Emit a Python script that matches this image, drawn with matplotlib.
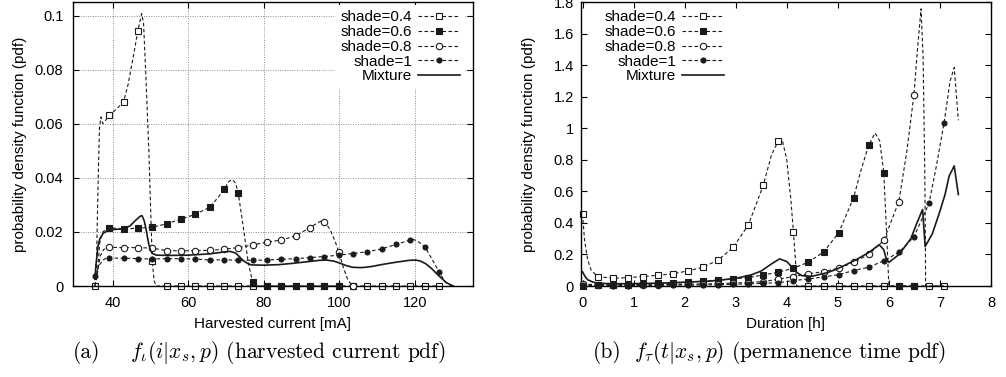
import matplotlib
matplotlib.use("Agg")
import matplotlib.pyplot as plt
from matplotlib.lines import Line2D
from matplotlib.ticker import FuncFormatter

plt.rcParams["font.family"] = ["Liberation Sans", "DejaVu Sans"]
plt.rcParams["mathtext.fontset"] = "cm"

LABELS = ["shade=0.4", "shade=0.6", "shade=0.8", "shade=1", "Mixture"]

# ---- (a) harvested current pdf -------------------------------------------
# sample positions where gnuplot drew the point markers
cur_mx = [35.2, 39.0, 42.8, 46.6, 50.4, 54.2, 58.0, 61.8, 65.6, 69.4, 73.2,
          77.0, 80.8, 84.6, 88.4, 92.2, 96.0, 99.8, 103.6, 107.4, 111.2,
          115.0, 118.8, 122.6, 126.4]

cur_m04 = [0, 0.0631, 0.0681, 0.0944, 0.0093, 0, 0, 0, 0, 0, 0, 0, 0, 0, 0,
           0, 0, 0, 0, 0, 0, 0, 0, 0, 0]
cur_m06 = [None, 0.0216, 0.0210, 0.0214, 0.0217, 0.0230, 0.0247, 0.0265,
           0.0291, 0.0358, 0.0343, 0.0014, 0, 0, 0, 0, 0, 0]
cur_m08 = [None, 0.0143, 0.0142, 0.0142, 0.0140, 0.0131, 0.0130, 0.0131,
           0.0132, 0.0136, 0.0142, 0.0152, 0.0162, 0.0170, 0.0185, 0.0216,
           0.0238, 0.0127, 0]
cur_m10 = [0.0037, 0.0103, 0.0103, 0.0101, 0.0100, 0.0101, 0.0101, 0.0100,
           0.0096, 0.0097, 0.0095, 0.0095, 0.0096, 0.0099, 0.0101, 0.0105,
           0.0109, 0.0114, 0.0120, 0.0127, 0.0137, 0.0154, 0.0170, 0.0146,
           0.0053]

# smooth curves
cur_x04 = [35.2, 35.6, 36.0, 36.4, 36.8, 37.3, 38.0, 39.0, 41.0, 42.8, 44.0,
           45.4, 46.6, 47.6, 48.1, 48.7, 49.5, 50.4, 50.9, 51.4, 126.4]
cur_y04 = [0, 0.006, 0.035, 0.058, 0.0625, 0.0600, 0.0612, 0.0631, 0.0655,
           0.0681, 0.0745, 0.085, 0.0944, 0.1007, 0.097, 0.078, 0.050, 0.0093,
           0.002, 0, 0]
cur_x06 = [35.2, 35.8, 36.5, 37.3, 38.2, 39.0, 42.8, 46.6, 50.4, 54.2, 58.0,
           61.8, 65.6, 68.0, 69.4, 70.8, 71.7, 72.5, 73.2, 74.5, 75.8, 77.0,
           78.2, 99.8]
cur_y06 = [0, 0.004, 0.016, 0.020, 0.021, 0.0216, 0.0210, 0.0214, 0.0217,
           0.0230, 0.0247, 0.0265, 0.0291, 0.033, 0.0358, 0.0388, 0.0393,
           0.038, 0.0343, 0.022, 0.009, 0.0014, 0, 0]
cur_x08 = [35.2, 35.8, 36.6, 37.5, 39.0, 42.8, 46.6, 50.4, 54.2, 58.0, 61.8,
           65.6, 69.4, 73.2, 77.0, 80.8, 84.6, 88.4, 92.2, 94.5, 95.4, 96.0,
           97.5, 99.0, 99.8, 101.0, 102.3, 103.6]
cur_y08 = [0, 0.004, 0.011, 0.0135, 0.0143, 0.0142, 0.0142, 0.0140, 0.0131,
           0.0130, 0.0131, 0.0132, 0.0136, 0.0142, 0.0152, 0.0162, 0.0170,
           0.0185, 0.0216, 0.0236, 0.0241, 0.0238, 0.021, 0.016, 0.0127,
           0.007, 0.002, 0]
cur_x10 = [35.2, 36.5, 37.7, 39.0, 42.8, 46.6, 50.4, 54.2, 58.0, 61.8, 65.6,
           69.4, 73.2, 77.0, 80.8, 84.6, 88.4, 92.2, 96.0, 99.8, 103.6, 107.4,
           111.2, 115.0, 118.8, 119.6, 120.8, 122.6, 124.5, 126.4, 128.0,
           129.7]
cur_y10 = [0.0037, 0.008, 0.0100, 0.0103, 0.0103, 0.0101, 0.0100, 0.0101,
           0.0101, 0.0100, 0.0096, 0.0097, 0.0095, 0.0095, 0.0096, 0.0099,
           0.0101, 0.0105, 0.0109, 0.0114, 0.0120, 0.0127, 0.0137, 0.0154,
           0.0170, 0.0172, 0.0165, 0.0146, 0.010, 0.0053, 0.0015, 0]
cur_xmix = [35.2, 35.5, 36.0, 36.5, 37.4, 39.1, 42.6, 44.5, 46.0, 47.2, 47.7,
            48.3, 48.8, 49.4, 49.9, 50.5, 51.5, 55, 60, 65.7, 69, 71.0, 72.5,
            73.5, 74.5, 75.7, 76.7, 80, 84, 87.8, 91, 94.8, 96.5, 98.5, 100,
            101.9, 103.6, 106, 108.5, 111.5, 115, 118.6, 120.2, 121.5, 122.9,
            124.4, 125.8, 127.1, 128.4, 129.7, 130.2]
cur_ymix = [0.0025, 0.008, 0.0145, 0.0175, 0.0195, 0.0208, 0.0211, 0.0222,
            0.0243, 0.0258, 0.0260, 0.024, 0.0207, 0.016, 0.0133, 0.0120,
            0.0114, 0.0113, 0.0114, 0.0119, 0.0125, 0.0128, 0.0122, 0.0108,
            0.0094, 0.0083, 0.0078, 0.0077, 0.0079, 0.0084, 0.0089, 0.0095,
            0.0096, 0.0092, 0.0085, 0.0075, 0.0069, 0.0068, 0.0072, 0.0080,
            0.0088, 0.0095, 0.0096, 0.0092, 0.0082, 0.0065, 0.0045, 0.0028,
            0.0012, 0.0003, 0]

# ---- (b) permanence time pdf ---------------------------------------------
dur_mx = [0, 0.295, 0.59, 0.885, 1.18, 1.475, 1.77, 2.065, 2.36, 2.655, 2.95,
          3.245, 3.54, 3.835, 4.13, 4.425, 4.72, 5.015, 5.31, 5.605, 5.9,
          6.195, 6.49, 6.785, 7.08]

dur_m04 = [0.457, 0.060, 0.049, 0.053, 0.060, 0.068, 0.077, 0.096, 0.119,
           0.164, 0.245, 0.385, 0.638, 0.921, 0.343, 0, 0, 0, 0, 0, 0, 0, 0,
           0, 0]
dur_m06 = [0, 0.005, 0.006, 0.008, 0.012, 0.016, 0.018, 0.024, 0.031, 0.038,
           0.045, 0.053, 0.070, 0.087, 0.113, 0.151, 0.215, 0.336, 0.560,
           0.893, 0.719, 0, 0]
dur_m08 = [0.015, 0.009, 0.008, 0.008, 0.008, 0.009, 0.010, 0.011, 0.013,
           0.015, 0.018, 0.022, 0.028, 0.043, 0.060, 0.077, 0.091, 0.113,
           0.149, 0.200, 0.289, 0.534, 1.21]
dur_m10 = [0.008, 0.004, 0.003, 0.003, 0.004, 0.004, 0.005, 0.006, 0.007,
           0.009, 0.011, 0.014, 0.017, 0.021, 0.034, 0.045, 0.057, 0.072,
           0.098, 0.119, 0.160, 0.213, 0.311, 0.523, 1.032]

dur_x04 = [0, 0.04, 0.1, 0.17, 0.295, 0.59, 0.885, 1.18, 1.475, 1.77, 2.065,
           2.36, 2.655, 2.95, 3.245, 3.54, 3.7, 3.835, 3.92, 4.0, 4.08, 4.13,
           4.17, 4.19, 7.08]
dur_y04 = [0.457, 0.29, 0.166, 0.10, 0.060, 0.049, 0.053, 0.060, 0.068,
           0.077, 0.096, 0.119, 0.164, 0.245, 0.385, 0.638, 0.83, 0.921,
           0.915, 0.80, 0.549, 0.343, 0.166, 0, 0]
dur_x06 = [0, 0.295, 0.59, 0.885, 1.18, 1.475, 1.77, 2.065, 2.36, 2.655,
           2.95, 3.245, 3.54, 3.835, 4.13, 4.425, 4.72, 5.015, 5.31, 5.45,
           5.605, 5.73, 5.82, 5.9, 5.96, 6.0, 6.49]
dur_y06 = [0, 0.005, 0.006, 0.008, 0.012, 0.016, 0.018, 0.024, 0.031, 0.038,
           0.045, 0.053, 0.070, 0.087, 0.113, 0.151, 0.215, 0.336, 0.560,
           0.73, 0.893, 0.970, 0.92, 0.719, 0.30, 0, 0]
dur_x08 = [0, 0.1, 0.295, 0.59, 0.885, 1.18, 1.475, 1.77, 2.065, 2.36, 2.655,
           2.95, 3.245, 3.54, 3.835, 4.13, 4.425, 4.72, 5.015, 5.31, 5.605,
           5.9, 6.195, 6.35, 6.49, 6.56, 6.63, 6.67, 6.70, 6.71, 6.72, 7.08]
dur_y08 = [0.015, 0.010, 0.009, 0.008, 0.008, 0.008, 0.009, 0.010, 0.011,
           0.013, 0.015, 0.018, 0.022, 0.028, 0.043, 0.060, 0.077, 0.091,
           0.113, 0.149, 0.200, 0.289, 0.534, 0.85, 1.21, 1.50, 1.757, 1.45,
           0.80, 0.485, 0, 0]
dur_x10 = [0, 0.295, 0.59, 0.885, 1.18, 1.475, 1.77, 2.065, 2.36, 2.655,
           2.95, 3.245, 3.54, 3.835, 4.13, 4.425, 4.72, 5.015, 5.31, 5.605,
           5.9, 6.195, 6.49, 6.785, 6.93, 7.08, 7.2, 7.28, 7.36]
dur_y10 = [0.008, 0.004, 0.003, 0.003, 0.004, 0.004, 0.005, 0.006, 0.007,
           0.009, 0.011, 0.014, 0.017, 0.021, 0.034, 0.045, 0.057, 0.072,
           0.098, 0.119, 0.160, 0.213, 0.311, 0.523, 0.76, 1.032, 1.30, 1.385,
           1.05]
dur_xmix = [0, 0.05, 0.1, 0.2, 0.3, 0.6, 1.0, 1.5, 2.0, 2.5, 3.0, 3.3, 3.5,
            3.7, 3.86, 4.0, 4.1, 4.2, 4.3, 4.5, 4.8, 5.0, 5.35, 5.62, 5.81,
            5.9, 5.95, 6.0, 6.2, 6.43, 6.55, 6.66, 6.70, 6.71, 6.85, 6.99,
            7.1, 7.18, 7.28, 7.36]
dur_ymix = [0.09, 0.06, 0.04, 0.025, 0.018, 0.014, 0.015, 0.018, 0.024,
            0.031, 0.048, 0.07, 0.095, 0.14, 0.172, 0.155, 0.12, 0.085, 0.065,
            0.062, 0.085, 0.11, 0.165, 0.215, 0.262, 0.23, 0.17, 0.15, 0.2,
            0.30, 0.40, 0.485, 0.30, 0.25, 0.33, 0.464, 0.58, 0.697, 0.761,
            0.58]

INK = "#1a1a1a"
DASH = (0, (3.2, 2.2))
STYLES = [
    dict(marker="s", markersize=4.6, markerfacecolor="white"),
    dict(marker="s", markersize=4.6, markerfacecolor=INK),
    dict(marker="o", markersize=4.6, markerfacecolor="white"),
    dict(marker="o", markersize=3.6, markerfacecolor=INK),
]


def draw_panel(ax, curves, marks, mx):
    for i, ((cx, cy), my) in enumerate(zip(curves[:4], marks)):
        ax.plot(cx, cy, color=INK, lw=0.8, linestyle=DASH, zorder=2 + i)
        pts = [(x, y) for x, y in zip(mx, my) if y is not None]
        ax.plot([p[0] for p in pts], [p[1] for p in pts], linestyle="none",
                markeredgecolor=INK, markeredgewidth=0.8, clip_on=False,
                zorder=2.5 + i, **STYLES[i])
    ax.plot(curves[4][0], curves[4][1], color=INK, lw=1.2, zorder=7)

    handles = [Line2D([], [], color=INK, lw=0.8, linestyle=DASH,
                      markeredgecolor=INK, markeredgewidth=0.8, **st)
               for st in STYLES]
    handles.append(Line2D([], [], color=INK, lw=1.2))
    return handles


def style_axes(ax):
    ax.tick_params(direction="in", top=True, right=True, length=4,
                   width=0.8, labelsize=10.5, pad=7)
    for sp in ax.spines.values():
        sp.set_linewidth(1.0)
    ax.yaxis.set_major_formatter(FuncFormatter(lambda v, _: f"{v:g}"))
    ax.set_ylabel("probability density function (pdf)", fontsize=11)


def add_legend(ax, handles, right_px, **frame):
    leg = ax.legend(handles, LABELS, loc="upper right", markerfirst=False,
                    bbox_to_anchor=(right_px / W, 1 - 5 / H),
                    bbox_transform=fig.transFigure, fontsize=11, numpoints=1,
                    handlelength=2.75, handletextpad=0.35, labelspacing=0.05,
                    borderpad=0.35, borderaxespad=0, **frame)
    leg.set_zorder(10)
    return leg


fig = plt.figure(figsize=(10.06, 3.77), dpi=100)
W, H = 1006, 377

ax1 = fig.add_axes([73 / W, 91 / H, 400 / W, 284 / H])
hs = draw_panel(ax1,
                [(cur_x04, cur_y04), (cur_x06, cur_y06), (cur_x08, cur_y08),
                 (cur_x10, cur_y10), (cur_xmix, cur_ymix)],
                [cur_m04, cur_m06, cur_m08, cur_m10], cur_mx)
ax1.set_xlim(29.4, 135.4)
ax1.set_ylim(0, 0.105)
ax1.set_xticks([40, 60, 80, 100, 120])
ax1.set_yticks([0, 0.02, 0.04, 0.06, 0.08, 0.1])
ax1.grid(True, color="#8c8c8c", lw=0.7, linestyle=(0, (1, 1.5)))
ax1.set_axisbelow(True)
style_axes(ax1)
ax1.set_xlabel("Harvested current [mA]", fontsize=11, labelpad=5)
ax1.yaxis.set_label_coords(-0.115, 0.5)
add_legend(ax1, hs, 465, fancybox=False, framealpha=1, edgecolor="none",
           facecolor="white")

ax2 = fig.add_axes([581 / W, 91 / H, 410 / W, 284 / H])
hs = draw_panel(ax2,
                [(dur_x04, dur_y04), (dur_x06, dur_y06), (dur_x08, dur_y08),
                 (dur_x10, dur_y10), (dur_xmix, dur_ymix)],
                [dur_m04, dur_m06, dur_m08, dur_m10], dur_mx)
ax2.set_xlim(-0.03, 8)
ax2.set_ylim(0, 1.8)
ax2.set_xticks(range(0, 9))
ax2.set_yticks([0, 0.2, 0.4, 0.6, 0.8, 1.0, 1.2, 1.4, 1.6, 1.8])
style_axes(ax2)
ax2.tick_params(axis="y", pad=5)
ax2.set_xlabel("Duration [h]", fontsize=11, labelpad=5)
ax2.yaxis.set_label_coords(-0.11, 0.5)
add_legend(ax2, hs, 729, frameon=False)

# subfigure captions (LaTeX style)
CAP_Y = 1 - 353 / H
fig.text(73 / W, CAP_Y, "(a)", ha="left", va="center", family="cmr10",
         fontsize=15.5)
fig.text(130 / W, CAP_Y, r"$f_\iota(i|x_s,p)$ (harvested current pdf)",
         ha="left", va="center", family="cmr10", fontsize=15.5)
fig.text(593 / W, CAP_Y, "(b)", ha="left", va="center", family="cmr10",
         fontsize=15.5)
fig.text(634 / W, CAP_Y, r"$f_\tau(t|x_s,p)$ (permanence time pdf)",
         ha="left", va="center", family="cmr10", fontsize=15.5)

fig.savefig("out.png", dpi=100)
